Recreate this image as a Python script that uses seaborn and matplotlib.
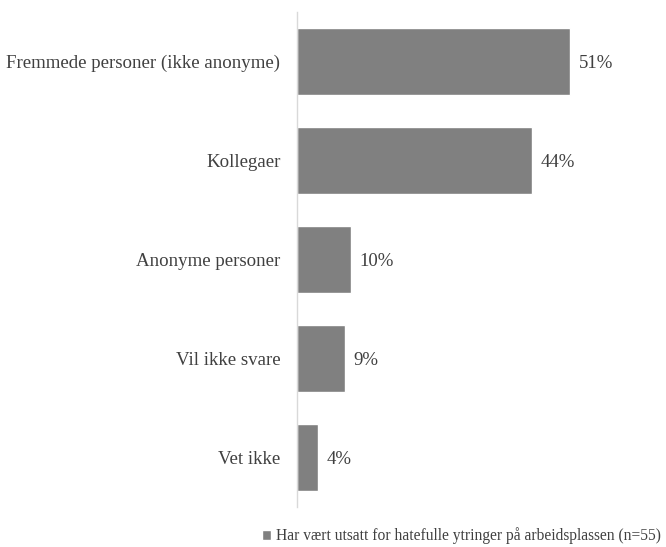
import matplotlib
matplotlib.use("Agg")
import matplotlib.pyplot as plt
import seaborn as sns
import pandas as pd

categories = ["Fremmede personer (ikke anonyme)", "Kollegaer", "Anonyme personer", "Vil ikke svare", "Vet ikke"]
values = [51, 44, 10, 9, 4]
series_name = "Har vært utsatt for hatefulle ytringer på arbeidsplassen (n=55)"

sns.set_theme(style="white")
plt.rcParams['font.family'] = ['Liberation Serif', 'DejaVu Serif']

df = pd.DataFrame({"cat": categories, "val": values, "series": series_name})

W, H = 666, 547
fig = plt.figure(figsize=(W/100, H/100), dpi=100)
left, right, top, bottom = 297, 640, 12, 507
ax = fig.add_axes([left/W, 1-bottom/H, (right-left)/W, (bottom-top)/H])
bar_color = "#808080"
sns.barplot(data=df, y="cat", x="val", hue="series", palette=[bar_color],
            orient="h", width=0.67, ax=ax, legend=False, saturation=1)
pxper = 5.35
ax.set_xlim(0, (right-left)/pxper)
ax.set_ylim(4.5, -0.5)
for i, v in enumerate(values):
    ax.text(v + 1.6, i + 0.02, f"{v}%", va="center", ha="left", fontsize=13.5, color="#404040")
ax.set_xlabel("")
ax.set_ylabel("")
ax.set_xticks([])
ax.tick_params(axis="y", length=0, pad=12, labelsize=13.6, labelcolor="#404040")
for s in ["top", "right", "bottom"]:
    ax.spines[s].set_visible(False)
ax.spines["left"].set_color("#d9d9d9")
ax.spines["left"].set_linewidth(1)

from matplotlib.patches import Patch
fig.legend(handles=[Patch(facecolor=bar_color, label=series_name)], loc="center left",
           bbox_to_anchor=(262/W, 1-536/H), frameon=False, fontsize=11.2,
           handlelength=0.6, handleheight=0.6, handletextpad=0.3, labelcolor="#404040",
           borderpad=0, borderaxespad=0)
fig.savefig("out.png", dpi=100)
